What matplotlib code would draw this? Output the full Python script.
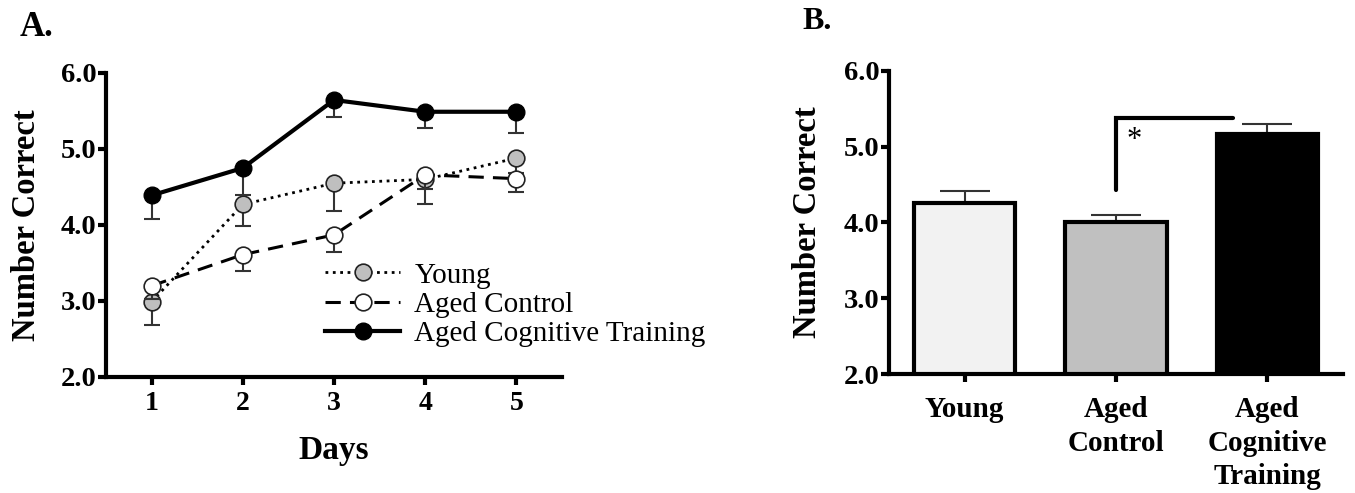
import matplotlib
matplotlib.use("Agg")
import matplotlib.pyplot as plt
import numpy as np

plt.rcParams['font.family'] = ['Liberation Serif', 'DejaVu Serif']

# ---- Data: panel A ----
days = [1, 2, 3, 4, 5]
young = [2.99, 4.27, 4.55, 4.60, 4.88]
young_err = [0.30, 0.28, 0.36, 0.33, 0.20]
aged_ctrl = [3.20, 3.61, 3.87, 4.66, 4.61]
aged_ctrl_err = [0.18, 0.22, 0.22, 0.19, 0.18]
aged_ct = [4.39, 4.75, 5.645, 5.49, 5.49]
aged_ct_err = [0.31, 0.36, 0.22, 0.22, 0.28]
series_labels = ["Young", "Aged Control", "Aged Cognitive Training"]

# ---- Data: panel B ----
groups = ["Young", "Aged\nControl", "Aged\nCognitive\nTraining"]
group_means = [4.26, 4.00, 5.17]
group_err = [0.15, 0.10, 0.13]
yticks = [2.0, 3.0, 4.0, 5.0, 6.0]
ytick_labels = ["2.0", "3.0", "4.0", "5.0", "6.0"]

W, H = 1355, 493
fig = plt.figure(figsize=(W / 100, H / 100), dpi=100)

def px_axes(x0, x1, ytop, ybot):
    return fig.add_axes([x0 / W, (H - ybot) / H, (x1 - x0) / W, (ybot - ytop) / H])

axA = px_axes(106, 562, 73, 377)
axB = px_axes(889, 1343, 70.7, 374)

def style_axes(ax, lp):
    for s in ['top', 'right']:
        ax.spines[s].set_visible(False)
    for s in ['left', 'bottom']:
        ax.spines[s].set_linewidth(3)
    ax.tick_params(axis='both', direction='out', length=6, width=3, pad=1)
    ax.set_ylim(2.0, 6.0)
    ax.set_yticks(yticks)
    ax.set_yticklabels(ytick_labels, fontsize=20.5, fontweight='bold')
    ax.set_ylabel("Number Correct", fontsize=23.5, fontweight='bold', labelpad=lp)

style_axes(axA, 13)
style_axes(axB, 15)

# ---- Panel A ----
errc = '#333333'
zero = [0] * len(days)
# Young
axA.errorbar(days, young, yerr=[young_err, zero], fmt='none', ecolor=errc,
             elinewidth=1.5, capsize=6, capthick=1.5, zorder=2)
lY, = axA.plot(days, young, linestyle=':', color='black', linewidth=2,
               marker='o', markersize=12, markerfacecolor='#bfbfbf',
               markeredgecolor='#222222', markeredgewidth=1.2, zorder=3,
               label=series_labels[0])
# Aged control
axA.errorbar(days, aged_ctrl, yerr=[aged_ctrl_err, zero], fmt='none', ecolor=errc,
             elinewidth=1.5, capsize=6, capthick=1.5, zorder=4)
lC, = axA.plot(days, aged_ctrl, linestyle=(0, (5, 3)), color='black', linewidth=2.2,
               marker='o', markersize=12, markerfacecolor='white',
               markeredgecolor='#222222', markeredgewidth=1.2, zorder=5,
               label=series_labels[1])
# Aged cognitive training
axA.errorbar(days, aged_ct, yerr=[aged_ct_err, zero], fmt='none', ecolor=errc,
             elinewidth=1.5, capsize=6, capthick=1.5, zorder=6)
lT, = axA.plot(days, aged_ct, linestyle='-', color='black', linewidth=3,
               marker='o', markersize=12, markerfacecolor='black',
               markeredgecolor='black', zorder=7, label=series_labels[2])

axA.set_xlim(0.5, 5.5)
axA.set_xticks(days)
axA.set_xticklabels([str(d) for d in days], fontsize=20, fontweight='bold')
axA.tick_params(axis='x', pad=4)
axA.set_xlabel("Days", fontsize=24, fontweight='bold', labelpad=14)

axA.legend(handles=[lY, lC, lT], loc='upper left', bbox_to_anchor=(0.481, 0.378),
           frameon=False, fontsize=21, handlelength=2.55, handletextpad=0.5,
           borderpad=0, borderaxespad=0, labelspacing=0.1)

axA.text(-0.19, 1.205, "A.", transform=axA.transAxes, fontsize=25,
         fontweight='bold', ha='left', va='top')

# ---- Panel B ----
xpos = np.arange(len(groups))
colors = ['#f2f2f2', '#c0c0c0', '#000000']
axB.bar(xpos, group_means, width=0.67, bottom=0, color=colors,
        edgecolor='black', linewidth=3, zorder=2)
axB.errorbar(xpos, group_means, yerr=[[0] * 3, group_err], fmt='none',
             ecolor=errc, elinewidth=1.5, capsize=18, capthick=1.5, zorder=1)
axB.set_xlim(-0.5, 2.5)
axB.set_ylim(2.0, 6.0)
axB.set_xticks(xpos)
axB.set_xticklabels(groups, fontsize=21, fontweight='bold', linespacing=1.3)
axB.tick_params(axis='x', pad=10)

# significance bracket
axB.plot([1, 1, 1.775], [4.43, 5.38, 5.38], color='black', linewidth=3,
         solid_capstyle='round', solid_joinstyle='miter', zorder=3)
axB.text(1.12, 5.08, "*", fontsize=22, ha='center', va='center')

axB.text(-0.19, 1.21, "B.", transform=axB.transAxes, fontsize=23,
         fontweight='bold', ha='left', va='top')

fig.savefig("out.png", dpi=100)
